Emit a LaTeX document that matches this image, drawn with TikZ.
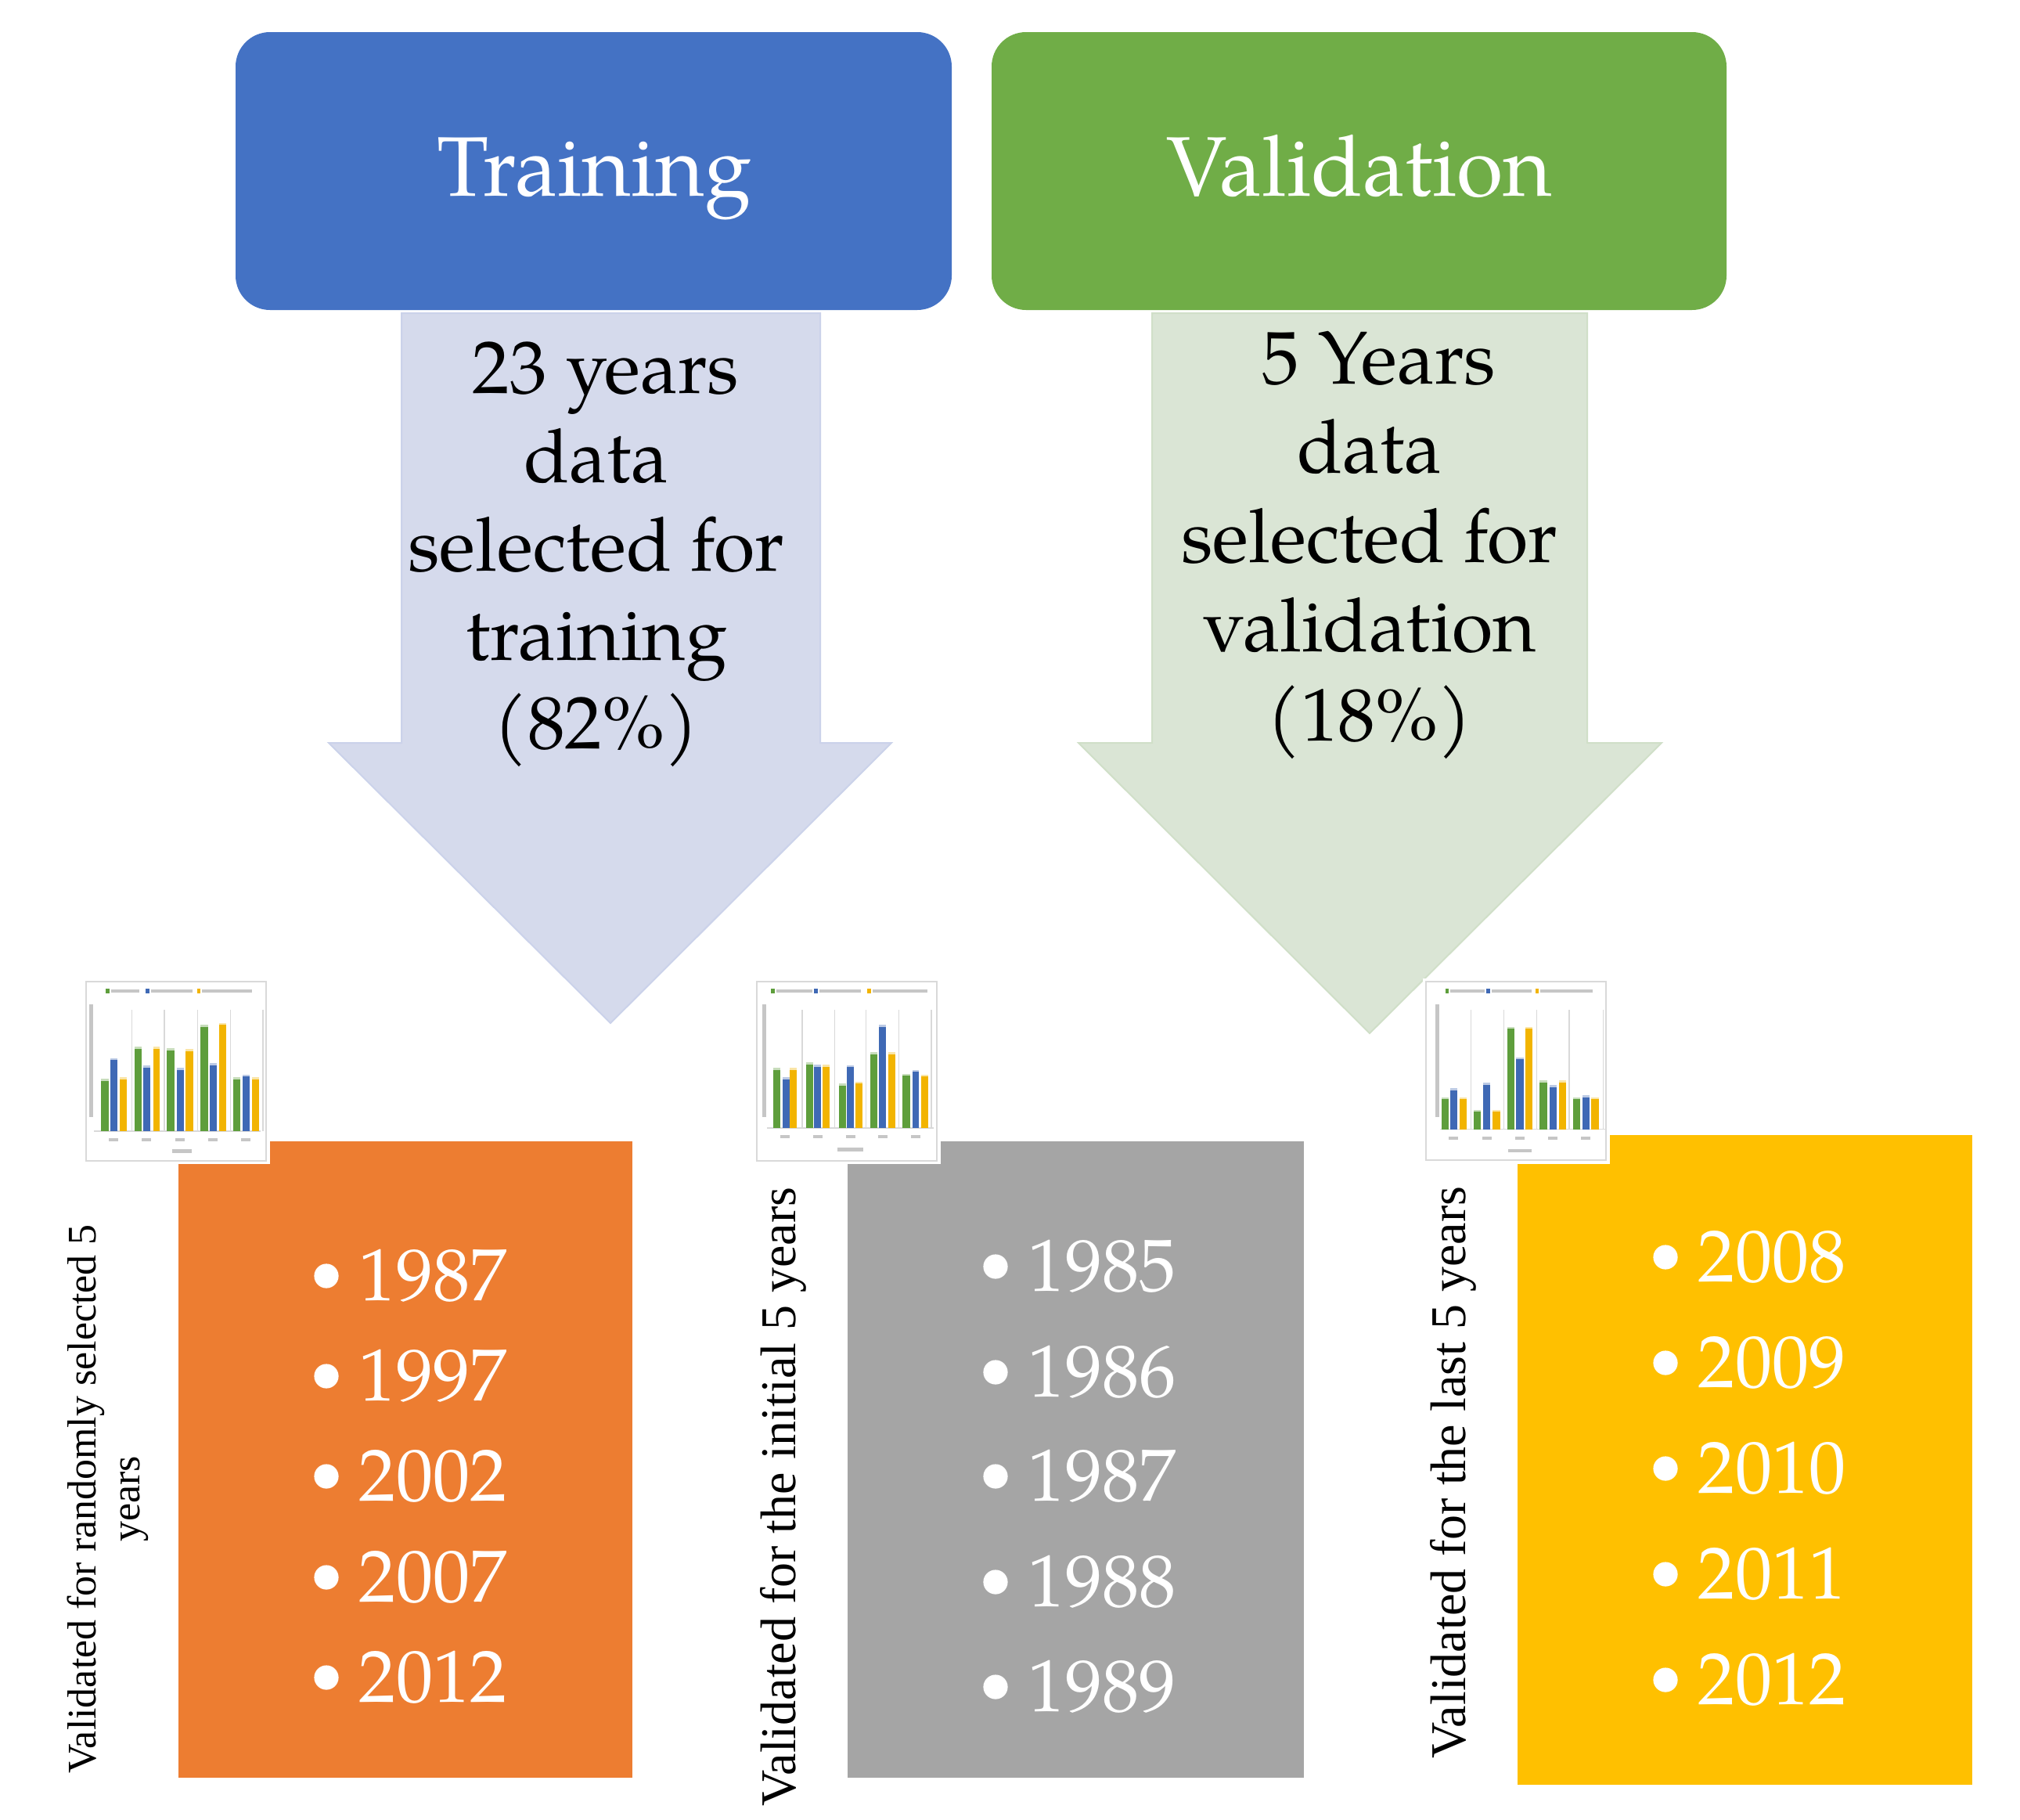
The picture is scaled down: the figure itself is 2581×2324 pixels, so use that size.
\documentclass[tikz,border=0pt]{standalone}
\usepackage{fontspec}
\setmainfont{Liberation Serif}
\newfontfamily\palfamily{TeX Gyre Pagella}
\newcommand{\palfont}[2]{\palfamily\fontsize{#1}{#2}\selectfont}
\definecolor{trainblue}{HTML}{4472C4}
\definecolor{valgreen}{HTML}{70AD47}
\definecolor{arrowblue}{HTML}{D5DAEC}
\definecolor{arrowblueline}{HTML}{CBD2EA}
\definecolor{arrowgreen}{HTML}{DAE5D5}
\definecolor{arrowgreenline}{HTML}{D0DFC8}
\definecolor{boxorange}{HTML}{ED7D31}
\definecolor{boxgrey}{HTML}{A5A5A5}
\definecolor{boxyellow}{HTML}{FFC000}
\definecolor{cg}{HTML}{5E9E3C}
\definecolor{cb}{HTML}{3F69B5}
\definecolor{cy}{HTML}{F2B400}
\definecolor{faint}{HTML}{D9D9D9}
\tikzset{
  headbox/.style={fill=#1, rounded corners=11pt},
  headtext/.style={text=white, font=\palfont{27pt}{31pt}, inner sep=0pt, anchor=base},
  arrowtext/.style={text=black, font=\palfont{23.85pt}{28.4pt}, inner sep=0pt, anchor=base},
  yeartext/.style={text=white, font=\palfont{23.6pt}{28pt}, inner sep=0pt, anchor=west},
  bulletdot/.style={circle, fill=white, inner sep=0pt, minimum size=7.8pt},
  sidetext/.style={text=black, inner sep=0pt, rotate=90},
  chartframe/.style={fill=white, draw=faint, line width=0.5pt},
  faintline/.style={draw=faint, line width=0.4pt},
  inkline/.style={draw=gray!45, line width=1.2pt}
}
\newcommand{\minichart}[4]{%
  \foreach \sx in {#4} {\draw[faintline] (\sx,120) -- (\sx,#2);}
  \draw[faintline] (60,#2) -- (700,#2);
  \foreach \xa/\xb/\top/\col in {#1} {\fill[\col] (\xa,\top) rectangle (\xb,#2);
     \fill[\col!35!white] (\xa,\top) rectangle (\xb,\top+8);}
  \foreach \lx/\ll/\col in {#3} {\fill[\col] (\lx,40) rectangle (\lx+14,56);
     \draw[inkline] (\lx+20,48) -- (\lx+20+\ll,48);}
  \draw[inkline] (50,100) -- (50,530);
}
\begin{document}
\begin{tikzpicture}[x=0.25pt,y=-0.25pt]
\useasboundingbox[fill=white] (0,0) rectangle (2581,2324);

% ---- arrows ----
\filldraw[fill=arrowblue, draw=arrowblueline, line width=0.5pt]
  (513,400) coordinate (ta1) -- (1048,400) -- (1048,949) -- (1139,949)
  -- (780,1307) coordinate (ttip) -- (420,949) -- (513,949) -- cycle;
\filldraw[fill=arrowgreen, draw=arrowgreenline, line width=0.5pt]
  (1472,400) coordinate (va1) -- (2028,400) -- (2028,949) -- (2123,949)
  -- (1750,1320) coordinate (vtip) -- (1378,949) -- (1472,949) -- cycle;

% ---- header boxes ----
\path[headbox=trainblue] (301,41) coordinate (tbox) rectangle (1216,396);
\path[headbox=valgreen] (1267,41) coordinate (vbox) rectangle (2206,396);
\node[headtext] (training) at (759,250) {Training};
\node[headtext] (validation) at (1737,250) {Validation};

% ---- arrow texts ----
\node[arrowtext] (tl1) at (774,502) {23 years};
\node[arrowtext] (tl2) at (762,616) {data};
\node[arrowtext] (tl3) at (762,729) {selected for};
\node[arrowtext] (tl4) at (762,843) {training};
\node[arrowtext] (tl5) at (762,956) {(82\%)};
\node[arrowtext] (vl1) at (1762,490) {5 Years};
\node[arrowtext] (vl2) at (1750,604) {data};
\node[arrowtext] (vl3) at (1750,718) {selected for};
\node[arrowtext] (vl4) at (1750,832) {validation};
\node[arrowtext] (vl5) at (1750,946) {(18\%)};

% ---- coloured boxes ----
\fill[boxorange] (228,1458) coordinate (obox) rectangle (808,2271);
\fill[boxgrey] (1083,1458) coordinate (gbox) rectangle (1666,2271);
\fill[boxyellow] (1939,1450) coordinate (ybox) rectangle (2520,2280);

% ---- mini charts ----
\fill[white] (106,1250) rectangle (345,1487);
\draw[chartframe] (110,1254) rectangle (340,1483);
\begin{scope}[shift={(100,1250)}, scale=1/3]
\minichart{88/118/385/cg, 123/150/305/cb, 160/185/378/cy, 215/243/262/cg, 250/277/333/cb, 287/313/262/cy, 340/368/268/cg, 377/404/342/cb, 412/440/270/cy, 468/497/178/cg, 503/530/325/cb, 540/567/170/cy, 595/622/378/cg, 630/657/368/cb, 667/693/378/cy}{585}{105/110/cg, 258/160/cb, 455/190/cy}{205,330,457,583,708}
\foreach \gx in {135,262,390,515,643} {\draw[inkline] (\gx-18,618) -- (\gx+18,618);}
\draw[inkline] (360,662) -- (435,662);
\end{scope}

\fill[white] (963,1250) rectangle (1202,1487);
\draw[chartframe] (967,1254) rectangle (1197,1483);
\begin{scope}[shift={(960,1250)}, scale=1/3]
\minichart{85/112/342/cg,120/147/378/cb,148/175/342/cy, 210/237/322/cg,240/267/330/cb,273/300/330/cy, 337/362/402/cg,365/392/332/cb,400/427/395/cy, 455/483/283/cg,490/517/178/cb,525/552/283/cy, 580/608/365/cg,617/643/350/cb,650/677/368/cy}{573}{75/140/cg, 240/160/cb, 445/210/cy}{195,320,440,565,690}
\foreach \gx in {130,255,380,505,630} {\draw[inkline] (\gx-18,606) -- (\gx+18,606);}
\draw[inkline] (330,655) -- (430,655);
\end{scope}

\fill[white] (1818,1250) rectangle (2057,1487);
\draw[chartframe] (1822,1254) rectangle (2052,1482);
\begin{scope}[shift={(1820,1250)}, scale=1/3]
\minichart{65/92/455/cg,100/127/420/cb,135/162/455/cy, 190/217/503/cg,225/252/400/cb,262/290/503/cy, 317/345/185/cg,352/380/302/cb,388/415/185/cy, 442/470/390/cg,480/507/408/cb,515/542/390/cy, 570/597/455/cg,605/632/448/cb,640/668/455/cy}{578}{80/130/cg, 237/155/cb, 425/200/cy}{178,305,430,555,685}
\foreach \gx in {112,240,365,492,618} {\draw[inkline] (\gx-18,612) -- (\gx+18,612);}
\draw[inkline] (320,660) -- (410,660);
\end{scope}

% ---- years ----
\foreach \yr/\yy [count=\i] in {1987/1630, 1997/1758, 2002/1886, 2007/2015, 2012/2143} {
  \node[bulletdot] (ob\i) at (417,\yy) {};
  \node[yeartext] (oy\i) at (458,\yy) {\yr};
}
\foreach \yr/\yy [count=\i] in {1985/1618, 1986/1753, 1987/1886, 1988/2021, 1989/2155} {
  \node[bulletdot] (gb\i) at (1272,\yy) {};
  \node[yeartext] (gy\i) at (1313,\yy) {\yr};
}
\foreach \yr/\yy [count=\i] in {2008/1606, 2009/1741, 2010/1876, 2011/2011, 2012/2146} {
  \node[bulletdot] (yb\i) at (2128,\yy) {};
  \node[yeartext] (yy\i) at (2169,\yy) {\yr};
}

% ---- side texts ----
\node[sidetext, align=center, font=\fontsize{13pt}{14pt}\selectfont] (side1) at (138,1915)
  {Validated for randomly selected 5\\years};
\node[sidetext, anchor=base, font=\fontsize{16pt}{19pt}\selectfont] (side2) at (1016,1912)
  {Validated for the initial 5 years};
\node[sidetext, anchor=base, font=\fontsize{16pt}{19pt}\selectfont] (side3) at (1872,1881)
  {Validated for the last 5 years};
\end{tikzpicture}
\end{document}
